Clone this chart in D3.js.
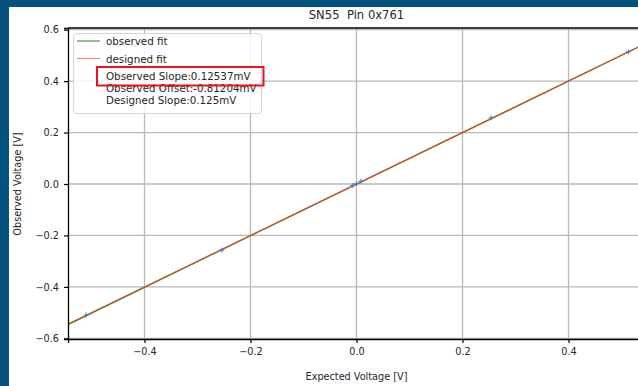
<!DOCTYPE html>
<html>
<head>
<meta charset="utf-8">
<script src="https://cdn.jsdelivr.net/npm/d3@7"></script>
<style>
  body { margin: 0; background: #fff; }
  svg { display: block; font-family: "DejaVu Sans", sans-serif; }
</style>
</head>
<body>
<svg width="638" height="386"></svg>
<script>
// measured points (expected vs observed, volts)
const expected = [-0.510, -0.254, -0.007, 0.000, 0.0085, 0.254, 0.513];
const observed = [-0.509, -0.257, -0.006, 0.001, 0.011, 0.257, 0.514];
// fit parameters
const obsSlope = 1.00296, obsOffset = -0.000812;
const desSlope = 1.0, desOffset = 0.0;
const xTicks = [-0.4, -0.2, 0.0, 0.2, 0.4];
const yTicks = [-0.6, -0.4, -0.2, 0.0, 0.2, 0.4, 0.6];
const legendLines = ["observed fit", "designed fit"];
const legendNotes = ["Observed Slope:0.12537mV", "Observed Offset:-0.81204mV", "Designed Slope:0.125mV"];
const title = "SN55  Pin 0x761";

let svg = d3.select("svg");
// blue frame of the screenshot
svg.append("rect").attr("width", 638).attr("height", 386).attr("fill", "#06527f");
svg.append("rect").attr("x", 9).attr("y", 7).attr("width", 629).attr("height", 379).attr("fill", "#fff");

let x = d3.scaleLinear().domain([-0.5443, 0.5443]).range([68, 645]);
let y = d3.scaleLinear().domain([-0.6025, 0.6064]).range([339, 28]);
let fmt = d => d3.format(".1f")(d).replace("-", "\u2212");

let g = svg.append("g");

// grid
g.selectAll(".gx").data(xTicks).enter().append("line")
  .attr("x1", d => x(d)).attr("x2", d => x(d)).attr("y1", y.range()[0]).attr("y2", y.range()[1])
  .attr("stroke", "#b8b8b8").attr("stroke-width", 1.3);
g.selectAll(".gy").data(yTicks).enter().append("line")
  .attr("y1", d => y(d)).attr("y2", d => y(d)).attr("x1", x.range()[0]).attr("x2", x.range()[1])
  .attr("stroke", "#b8b8b8").attr("stroke-width", 1.3);

// fit lines
let xd = x.domain();
let fitLine = d3.line().x(d => x(d[0])).y(d => y(d[1]));
g.append("path").attr("d", fitLine(xd.map(v => [v, obsSlope * v + obsOffset])))
  .attr("fill", "none").attr("stroke", "#2f8a2f").attr("stroke-width", 1.2);
g.append("path").attr("d", fitLine(xd.map(v => [v, desSlope * v + desOffset])))
  .attr("fill", "none").attr("stroke", "#d4502c").attr("stroke-width", 1.2).attr("opacity", 0.92);

// markers
let pts = expected.map((e, i) => [e, observed[i]]);
g.selectAll(".pt").data(pts).enter().append("path")
  .attr("d", d => { let px = x(d[0]), py = y(d[1]);
    return "M" + (px - 2.5) + "," + py + "H" + (px + 2.5) + "M" + px + "," + (py - 2.5) + "V" + (py + 2.5); })
  .attr("stroke", "#3a7fc0").attr("stroke-width", 1);

// axes
let xAxis = svg.append("g").attr("transform", "translate(0," + y.range()[0] + ")")
  .call(d3.axisBottom(x).tickValues(xTicks).tickFormat(fmt).tickSize(4).tickPadding(5));
let yAxis = svg.append("g").attr("transform", "translate(" + x.range()[0] + ",0)")
  .call(d3.axisLeft(y).tickValues(yTicks).tickFormat(fmt).tickSize(4).tickPadding(5));
[xAxis, yAxis].forEach(a => {
  a.select(".domain").attr("stroke", "#000").attr("stroke-width", 1.3);
  a.selectAll(".tick line").attr("stroke", "#000").attr("stroke-width", 1.2);
  a.selectAll("text").attr("font-family", "DejaVu Sans").attr("font-size", 9.7).attr("fill", "#262626");
});
// top spine
svg.append("line").attr("x1", x.range()[0]).attr("x2", x.range()[1]).attr("y1", y.range()[1]).attr("y2", y.range()[1])
  .attr("stroke", "#000").attr("stroke-width", 1.3);

// labels
svg.append("text").attr("x", x(0)).attr("y", 19).attr("text-anchor", "middle")
  .style("white-space", "pre")
  .attr("font-size", 11.6).attr("fill", "#262626").text(title);
svg.append("text").attr("x", x(0)).attr("y", 380).attr("text-anchor", "middle")
  .attr("font-size", 9.7).attr("fill", "#262626").text("Expected Voltage [V]");
svg.append("text").attr("transform", "translate(21," + y(0) + ") rotate(-90)").attr("text-anchor", "middle")
  .attr("font-size", 9.7).attr("fill", "#262626").text("Observed Voltage [V]");

// legend
let lg = svg.append("g");
lg.append("rect").attr("x", 73.5).attr("y", 33.5).attr("width", 188).attr("height", 80).attr("rx", 3)
  .attr("fill", "#fff").attr("fill-opacity", 0.8).attr("stroke", "#d6d6d6");
let lcol = ["#4c9a3c", "#f08878"];
legendLines.forEach((t, i) => {
  let ly = 41 + i * 17.5;
  lg.append("line").attr("x1", 77).attr("x2", 100).attr("y1", ly).attr("y2", ly)
    .attr("stroke", lcol[i]).attr("stroke-width", 1.2);
  lg.append("text").attr("x", 106).attr("y", ly + 4).attr("font-size", 10.3).attr("fill", "#262626").text(t);
});
legendNotes.forEach((t, i) => {
  lg.append("text").attr("x", 106).attr("y", 79.5 + i * 12.3).attr("font-size", 10.3).attr("fill", "#262626").text(t);
});
// red highlight box
svg.append("rect").attr("x", 97).attr("y", 67).attr("width", 166.5).attr("height", 18.5)
  .attr("fill", "none").attr("stroke", "#e8141a").attr("stroke-width", 2);
</script>
</body>
</html>
